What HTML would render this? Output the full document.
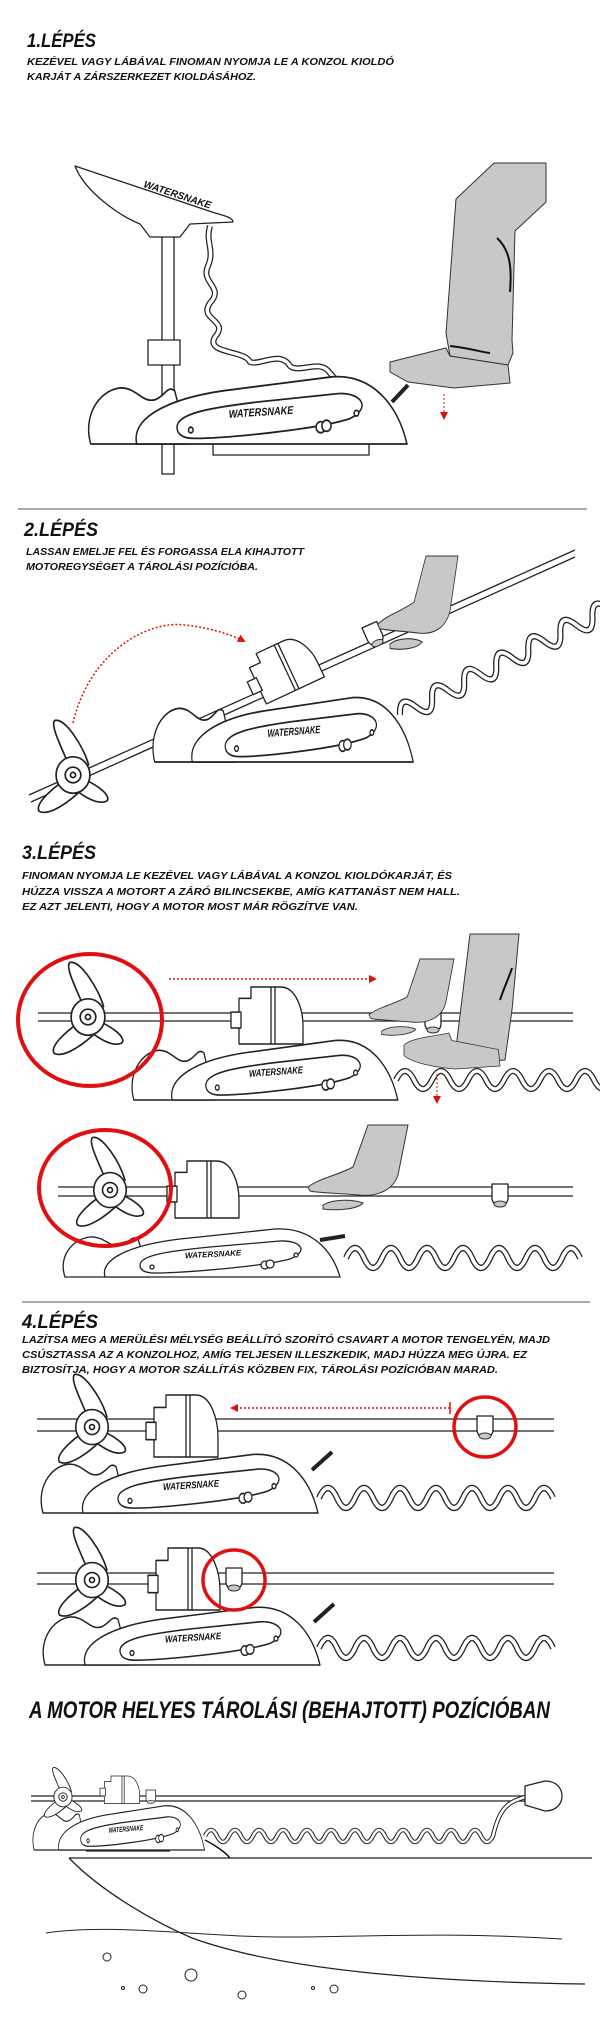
<!DOCTYPE html>
<html><head><meta charset="utf-8"><style>
html,body{margin:0;padding:0;background:#fff;}
svg{display:block;}
.t{font-family:"Liberation Sans",sans-serif;font-weight:bold;font-style:italic;fill:#111;}
.h{font-size:19px;}
.s{font-size:10.5px;}
.l{fill:#fff;stroke:#222;stroke-width:1.3;stroke-linejoin:round;}
.n{fill:none;stroke:#222;stroke-width:1.3;}
.r{fill:none;stroke:#e01010;}
.g{fill:#c8c8c8;stroke:#333;stroke-width:1;}
.w{font-family:"Liberation Sans",sans-serif;font-weight:bold;font-style:italic;font-size:8px;fill:#111;}
.cb{fill:none;stroke:#222;stroke-width:6;}
.cw{fill:none;stroke:#fff;stroke-width:3.5;}
.fb{fill:none;stroke:#222;stroke-width:4.5;}
.fw{fill:none;stroke:#fff;stroke-width:2.5;}
</style></head><body>
<svg width="600" height="2021" viewBox="0 0 600 2021" xmlns="http://www.w3.org/2000/svg">
<defs>
<marker id="ah" markerWidth="8" markerHeight="8" refX="6" refY="4" orient="auto" markerUnits="userSpaceOnUse"><path d="M0,0 L8,4 L0,8 Z" fill="#e01010"/></marker>
<g id="con">
<path class="l" d="M5,50 C-2,30 12,12 30,10 C45,9 50,22 62,18 C70,15 72,8 78,12 L90,50 Z"/>
<path class="l" d="M45,50 C40,32 70,18 120,12 L215,2 C250,0 272,22 280,50 Z"/>
<path class="l" d="M80,38 C80,28 110,24 150,20 L220,14 C240,13 250,24 230,32 C200,40 120,46 95,46 C85,46 80,43 80,38 Z"/>
<text class="w" x="125" y="30" transform="rotate(-3 150 28)">WATERSNAKE</text>
<circle class="l" cx="92" cy="40" r="2"/><circle class="l" cx="236" cy="28" r="2"/>
<circle class="l" cx="205" cy="38" r="4"/><circle class="l" cx="210" cy="37" r="4"/>
</g>
<g id="prop">
<path class="l" d="M0,0 C-8,-20 -18,-38 -14,-42 C-6,-44 8,-22 12,-8 Z"/>
<path class="l" d="M0,0 C-14,8 -30,22 -26,28 C-18,32 -2,20 8,10 Z"/>
<path class="l" d="M0,0 C18,6 30,16 26,20 C18,24 4,14 -4,6 Z"/>
<ellipse class="l" cx="0" cy="0" rx="13" ry="14"/>
<circle class="n" cx="0" cy="0" r="6"/><circle class="n" cx="0" cy="0" r="2"/>
</g>
<g id="mbox">
<path class="l" d="M8,10 L20,10 L20,0 L50,0 C65,0 72,20 72,34 L72,50 L8,50 Z"/>
<line class="n" x1="40" y1="0" x2="40" y2="50"/><line class="n" x1="44" y1="0" x2="44" y2="50"/>
<rect class="l" x="0" y="22" width="10" height="14"/>
</g>
<g id="clamp">
<path class="l" d="M0,0 L16,0 L16,14 C16,20 10,22 8,22 C6,22 0,20 0,14 Z"/>
<ellipse class="g" cx="8" cy="20" rx="6" ry="3"/>
</g>
<g id="hand">
<path class="g" d="M0,22 C10,14 30,10 45,2 L60,-40 L100,-40 L90,10 C85,25 70,32 50,30 C30,28 10,28 2,26 Z"/>
<path class="g" d="M15,40 C25,34 45,34 55,38 C50,44 30,46 15,44 Z"/>
</g>
<g id="shoe">
<path class="g" d="M0,16 C10,6 40,4 56,0 L60,10 L118,22 L120,44 L64,48 C40,46 10,40 0,30 Z"/>
</g>
<path id="wv" d="M0,0 q9,-18 18,0 t18,0 t18,0 t18,0 t18,0 t18,0 t18,0 t18,0 t18,0 t18,0 t18,0 t18,0 t18,0"/>
<path id="coil1" d="M210,226 C205,242 215,250 208,266 C200,283 225,287 210,303 C198,320 230,320 215,337 C205,354 245,350 250,362 C260,366 280,350 290,366 C300,374 320,358 330,373 C340,383 345,400 342,417"/>
<path id="fc" d="M205,1836 q6,-12 12,0 t12,0 t12,0 t12,0 t12,0 t12,0 t12,0 t12,0 t12,0 t12,0 t12,0 t12,0 t12,0 t12,0 t12,0 t12,0 t12,0 t12,0 t12,0 t12,0 t12,0 t12,0 t12,0 t12,0 C500,1805 510,1802 525,1797"/>
</defs>

<!-- STEP 1 -->
<text class="t h" x="27" y="47" textLength="69" lengthAdjust="spacingAndGlyphs">1.LÉPÉS</text>
<text class="t s" x="27" y="65" textLength="367" lengthAdjust="spacingAndGlyphs">KEZÉVEL VAGY LÁBÁVAL FINOMAN NYOMJA LE A KONZOL KIOLDÓ</text>
<text class="t s" x="27" y="80" textLength="229" lengthAdjust="spacingAndGlyphs">KARJÁT A ZÁRSZERKEZET KIOLDÁSÁHOZ.</text>

<rect class="l" x="162" y="232" width="12" height="242"/>
<path class="l" d="M75,166 L215,213 C226,216 233,218 233,222 L190,224 L180,237 L150,237 L140,224 C120,216 85,192 75,166 Z"/>
<text class="w" x="143" y="187" transform="rotate(18 143 187)" style="font-size:10px">WATERSNAKE</text>
<use href="#coil1" class="cb"/>
<use href="#coil1" class="cw"/>
<rect class="l" x="213" y="440" width="156" height="15"/>
<line class="n" x1="392" y1="402" x2="408" y2="385" style="stroke-width:4"/>
<rect class="l" x="148" y="340" width="32" height="25"/>
<g transform="translate(85,374) scale(1.15,1.4)"><use href="#con"/></g>
<path class="g" d="M494,163 L546,163 L546,202 L515,231 L512,340 L513,353 L508,365 L450,356 L446,333 L456,199 Z"/>
<path d="M497,238 C510,250 512,267 510,292" fill="none" stroke="#111" stroke-width="2"/>
<path d="M450,346 C470,348 480,352 490,353" fill="none" stroke="#111" stroke-width="2"/>
<path class="g" d="M390,362 L446,348 L450,356 L508,365 L510,383 L454,388 L408,382 L390,372 Z"/>
<line class="r" x1="444" y1="394" x2="444" y2="418" stroke-dasharray="2,2" marker-end="url(#ah)"/>

<line x1="18" y1="509" x2="587" y2="509" stroke="#555" stroke-width="1"/>

<!-- STEP 2 -->
<text class="t h" x="24" y="536" textLength="74" lengthAdjust="spacingAndGlyphs">2.LÉPÉS</text>
<text class="t s" x="26" y="555" textLength="278" lengthAdjust="spacingAndGlyphs">LASSAN EMELJE FEL ÉS FORGASSA ELA KIHAJTOTT</text>
<text class="t s" x="26" y="570" textLength="232" lengthAdjust="spacingAndGlyphs">MOTOREGYSÉGET A TÁROLÁSI POZÍCIÓBA.</text>
<path class="n" d="M29,795 L575,550 M31,802 L575,557"/>
<path class="r" d="M73,723 C90,650 150,620 185,625 C210,628 230,634 244,641" stroke-dasharray="2,2" stroke-width="1.5" marker-end="url(#ah)"/>
<g transform="translate(400,715) rotate(-27) scale(1,1.1)"><use href="#wv" class="cb"/><use href="#wv" class="cw"/></g>
<g transform="translate(150,695) scale(0.94,1.34)"><use href="#con"/></g>
<g transform="translate(238,662) rotate(-25)"><use href="#mbox"/></g>
<g transform="translate(362,628) rotate(-24)"><use href="#clamp"/></g>
<g transform="translate(378,600) scale(0.8,1.1)"><use href="#hand"/></g>
<g transform="translate(73,775) scale(1.3)"><use href="#prop"/></g>

<!-- STEP 3 -->
<text class="t h" x="22" y="859" textLength="74" lengthAdjust="spacingAndGlyphs">3.LÉPÉS</text>
<text class="t s" x="22" y="879" textLength="430" lengthAdjust="spacingAndGlyphs">FINOMAN NYOMJA LE KEZÉVEL VAGY LÁBÁVAL A KONZOL KIOLDÓKARJÁT, ÉS</text>
<text class="t s" x="22" y="895" textLength="438" lengthAdjust="spacingAndGlyphs">HÚZZA VISSZA A MOTORT A ZÁRÓ BILINCSEKBE, AMÍG KATTANÁST NEM HALL.</text>
<text class="t s" x="22" y="910" textLength="336" lengthAdjust="spacingAndGlyphs">EZ AZT JELENTI, HOGY A MOTOR MOST MÁR RÖGZÍTVE VAN.</text>

<!-- 3a -->
<path class="n" d="M38,1013 L573,1013 M38,1021 L573,1021"/>
<g transform="translate(396,1080)"><use href="#wv" class="cb"/><use href="#wv" class="cw"/></g>
<g transform="translate(129,1038) scale(0.96,1.24)"><use href="#con"/></g>
<g transform="translate(231,987) scale(1,1.14)"><use href="#mbox"/></g>
<g transform="translate(88,1017) scale(1.3)"><use href="#prop"/></g>
<ellipse class="r" cx="90" cy="1020" rx="72" ry="66" stroke-width="4"/>
<line class="r" x1="169" y1="979" x2="375" y2="979" stroke-dasharray="2,2" stroke-width="1.5" marker-end="url(#ah)"/>
<g transform="translate(425,1010)"><use href="#clamp"/></g>
<path class="g" d="M454,1064 L470,934 L519,934 L512,1010 L505,1060 Z"/>
<path d="M500,1000 C505,985 510,975 512,968" fill="none" stroke="#111" stroke-width="2"/>
<g transform="translate(404,1033) scale(0.8,0.75)"><use href="#shoe"/></g>
<g transform="translate(369,995) scale(0.85,0.9)"><use href="#hand"/></g>
<line class="r" x1="437" y1="1074" x2="437" y2="1102" stroke-dasharray="2,2" marker-end="url(#ah)"/>

<!-- 3b -->
<path class="n" d="M58,1187 L573,1187 M58,1196 L573,1196"/>
<g transform="translate(346,1258) scale(1,1.1)"><use href="#wv" class="cb"/><use href="#wv" class="cw"/></g>
<g transform="translate(60,1227) scale(1,1)"><use href="#con"/></g>
<line class="n" x1="320" y1="1240" x2="345" y2="1236" style="stroke-width:4"/>
<g transform="translate(167,1161) scale(1,1.14)"><use href="#mbox"/></g>
<g transform="translate(110,1190) scale(1.25)"><use href="#prop"/></g>
<ellipse class="r" cx="105" cy="1188" rx="66" ry="58" stroke-width="4"/>
<g transform="translate(492,1184)"><use href="#clamp"/></g>
<g transform="translate(308,1165) scale(1,1)"><use href="#hand"/></g>

<line x1="22" y1="1302" x2="590" y2="1302" stroke="#555" stroke-width="1"/>

<!-- STEP 4 -->
<text class="t h" x="22" y="1328" textLength="76" lengthAdjust="spacingAndGlyphs">4.LÉPÉS</text>
<text class="t s" x="22" y="1343" textLength="528" lengthAdjust="spacingAndGlyphs">LAZÍTSA MEG A MERÜLÉSI MÉLYSÉG BEÁLLÍTÓ SZORÍTÓ CSAVART A MOTOR TENGELYÉN, MAJD</text>
<text class="t s" x="22" y="1358" textLength="505" lengthAdjust="spacingAndGlyphs">CSÚSZTASSA AZ A KONZOLHOZ, AMÍG TELJESEN ILLESZKEDIK, MADJ HÚZZA MEG ÚJRA. EZ</text>
<text class="t s" x="22" y="1373" textLength="476" lengthAdjust="spacingAndGlyphs">BIZTOSÍTJA, HOGY A MOTOR SZÁLLÍTÁS KÖZBEN FIX,  TÁROLÁSI POZÍCIÓBAN MARAD.</text>

<!-- 4a -->
<path class="n" d="M37,1419 L554,1419 M37,1431 L554,1431"/>
<g transform="translate(319,1498) scale(1,1.1)"><use href="#wv" class="cb"/><use href="#wv" class="cw"/></g>
<g transform="translate(38,1452) scale(1,1.22)"><use href="#con"/></g>
<line class="n" x1="312" y1="1470" x2="332" y2="1452" style="stroke-width:4"/>
<g transform="translate(146,1395) scale(1,1.24)"><use href="#mbox"/></g>
<g transform="translate(92,1427) scale(1.25)"><use href="#prop"/></g>
<line class="r" x1="450" y1="1408" x2="232" y2="1408" stroke-dasharray="2,2" stroke-width="1.5" marker-end="url(#ah)"/>
<line class="r" x1="450" y1="1402" x2="450" y2="1414" stroke-width="1.5"/>
<g transform="translate(477,1416)"><use href="#clamp"/></g>
<ellipse class="r" cx="485" cy="1427" rx="31" ry="30" stroke-width="3.5"/>

<!-- 4b -->
<path class="n" d="M37,1573 L554,1573 M37,1584 L554,1584"/>
<g transform="translate(319,1648) scale(1,1.1)"><use href="#wv" class="cb"/><use href="#wv" class="cw"/></g>
<g transform="translate(40,1605) scale(1,1.2)"><use href="#con"/></g>
<line class="n" x1="314" y1="1622" x2="334" y2="1604" style="stroke-width:4"/>
<g transform="translate(148,1548) scale(1,1.24)"><use href="#mbox"/></g>
<g transform="translate(92,1580) scale(1.25)"><use href="#prop"/></g>
<g transform="translate(226,1568)"><use href="#clamp"/></g>
<ellipse class="r" cx="234" cy="1580" rx="31" ry="30" stroke-width="3.5"/>

<!-- FINAL -->
<text class="t" x="29" y="1718" style="font-size:24px" textLength="521" lengthAdjust="spacingAndGlyphs">A MOTOR HELYES TÁROLÁSI (BEHAJTOTT) POZÍCIÓBAN</text>
<path class="n" d="M31,1796 L531,1796 M31,1801 L531,1801"/>
<use href="#fc" class="fb"/>
<use href="#fc" class="fw"/>
<path class="l" d="M525,1786 L545,1781 C558,1781 562,1790 562,1796 C562,1804 556,1811 545,1811 L525,1805 Z"/>
<g transform="translate(31,1804) scale(0.62,0.92)"><use href="#con"/></g>
<g transform="translate(100,1776) scale(0.55,0.55)"><use href="#mbox"/></g>
<g transform="translate(63,1797) scale(0.7)"><use href="#prop"/></g>
<g transform="translate(146,1790) scale(0.6)"><use href="#clamp"/></g>
<path d="M205,1840 C215,1845 225,1852 230,1858" fill="none" stroke="#111" stroke-width="1.5"/>
<line class="n" x1="86" y1="1851" x2="170" y2="1851"/>
<path class="n" d="M69,1858 L592,1858 M69,1858 C100,1890 150,1920 192,1938 C280,1970 430,1982 585,1984"/>
<path class="n" style="stroke-width:1" d="M46,1933 C100,1925 160,1932 240,1936 C330,1940 420,1930 562,1939"/>
<g class="n" style="stroke-width:1">
<circle cx="107" cy="1957" r="4"/><circle cx="191" cy="1975" r="6"/><circle cx="123" cy="1988" r="1.5"/>
<circle cx="143" cy="1989" r="4"/><circle cx="242" cy="1995" r="4"/><circle cx="313" cy="1988" r="1.5"/>
<circle cx="334" cy="1989" r="4"/>
</g>
</svg>
</body></html>
